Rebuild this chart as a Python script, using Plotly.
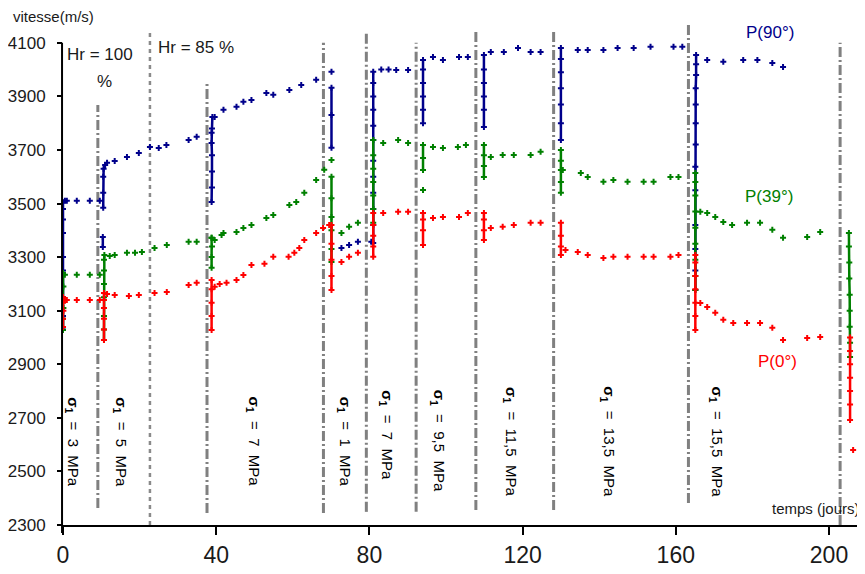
import plotly.graph_objects as go

# ---------------- data ----------------
# P(90°) - scattered measurements (day, m/s)
p90_days = [0.5, 1, 3.6, 7, 9.6,
            11.5, 13.5, 16.7, 19.8, 22.7, 25, 27, 32.8, 34.9, 38.8,
            39.6, 41.9, 45.3, 47.1, 49.2, 53.1, 54.9, 59.1, 62.2, 66.1, 70.1,
            72.7, 74.7, 77, 80.5,
            83.1, 85, 87, 90.1,
            96.6, 99.2, 103.4, 105.7,
            111.7, 115.1, 118.8, 122.1, 124.7,
            134.4, 137, 141.1, 144.8, 149, 153.4, 159.4, 161.7,
            168.2, 172.4, 177.6, 181.3, 185.2, 188]
p90_vals = [3510, 3510, 3510, 3510, 3510,
            3652, 3659, 3674, 3689, 3711, 3707, 3719, 3737, 3749, 3764,
            3823, 3850, 3861, 3880, 3887, 3913, 3906, 3924, 3943, 3962, 3992,
            3334, 3345, 3357, 3357,
            4000, 4000, 3999, 3999,
            4047, 4036, 4047, 4047,
            4066, 4066, 4081, 4066, 4066,
            4073, 4073, 4073, 4081, 4081, 4085, 4085, 4085,
            4036, 4029, 4036, 4036, 4025, 4010]
# P(90°) - rapid jumps after each loading step (None separates jumps)
p90_jump_days = [0, 0, 0, 0, 0, 0, 0, 0, 0, None,
                 10.4, 10.4, None, 10.5, 10.5, 10.5, 10.6, 11, None,
                 38.8, 38.9, 38.9, 38.9, 38.8, 38.9, 39, None,
                 70.1, 70.1, 70.1, None,
                 81, 81, 81, 81, 81, 81, 81, 81, 81, 81, 81, 81, None,
                 94, 94, 94, 94, 94, 94, None,
                 109.9, 109.9, 109.9, 109.9, 109.9, 109.9, None,
                 130, 130, 130, 130, 130, 130, 130, None,
                 165.1, 165.1, 165.1, 165.1, 165.1, 165.1, 165.2, 165.2, 165.2, 165.2, 165.3, 165.3, 165.3]
p90_jump_vals = [3030, 3080, 3150, 3250, 3300, 3390, 3440, 3480, 3505, None,
                 3338, 3375, None, 3484, 3540, 3600, 3630, 3644, None,
                 3506, 3560, 3620, 3680, 3726, 3780, 3823, None,
                 3708, 3831, 3932, None,
                 3353, 3420, 3480, 3540, 3600, 3660, 3737, 3790, 3850, 3900, 3950, 3992, None,
                 3800, 3850, 3900, 3950, 4000, 4036, None,
                 3786, 3850, 3900, 3950, 4000, 4055, None,
                 3737, 3800, 3870, 3930, 3990, 4040, 4081, None,
                 3177, 3250, 3330, 3420, 3550, 3637, 3720, 3800, 3870, 3930, 3980, 4020, 4055]

# P(39°)
p39_days = [0.5, 3.6, 7, 9.6,
            12.2, 13.5, 16.7, 18.8, 20.6, 23.9, 27.1, 32.8, 34.9, 38.8,
            39.6, 41.4, 41.9, 45.3, 47.1, 49.2, 53.1, 54.9, 59.1, 60.9, 63, 66.1, 68.2, 70.1,
            72.7, 74.7, 77,
            83.6, 87.5, 90.1,
            96.6, 99.2, 103.1, 105.2,
            111.7, 114.8, 117.7, 122.1, 124.7,
            130.5, 135.2, 137, 141.1, 143.7, 147.4, 151.6, 154.2, 158.6, 160.7,
            166.4, 168.2, 170.3, 172.4, 174.7, 178.6, 182, 185.2, 188, 194.3, 197.7]
p39_vals = [3234, 3234, 3234, 3234,
            3304, 3308, 3316, 3316, 3319, 3334, 3345, 3357, 3357, 3372,
            3364, 3383, 3390, 3394, 3409, 3420, 3446, 3457, 3495, 3506, 3540, 3588, 3626, 3663,
            3390, 3413, 3428,
            3726, 3737, 3726,
            3711, 3707, 3711, 3719,
            3674, 3681, 3681, 3681, 3693,
            3625, 3614, 3599, 3581, 3588, 3581, 3581, 3581, 3599, 3599,
            3469, 3465, 3450, 3431, 3420, 3428, 3428, 3402, 3372, 3375, 3394]
p39_jump_days = [0, 0, 0.1, 0, 0.1, 0, None,
                 10.7, 10.7, 10.7, 10.7, 10.7, 10.7, 10.7, 10.8, None,
                 38.8, 38.8, 38.9, 38.8, None,
                 70.1, 70.1, 70.1, 70.1, 70.1, 70.1, None,
                 81, 81, 81, 81, 81, 81, 81, None,
                 94, None, 94, 94, 94, None,
                 109.9, 109.9, 109.9, 109.9, None,
                 130, 130, 130, 130, 130, None,
                 165.1, 165.1, 165.1, 165.1, 165.1, 165.1, 165.1, 165.1, 165.1, None,
                 205.2, 205.2, 205.3, 205.3, 205.4, 205.4, 205.4, 205.5, 205.5]
p39_jump_vals = [3028, 3070, 3110, 3150, 3190, 3241, None,
                 2991, 3030, 3080, 3150, 3200, 3250, 3290, 3308, None,
                 3260, 3300, 3340, 3372, None,
                 3282, 3330, 3400, 3450, 3520, 3600, None,
                 3428, 3480, 3530, 3580, 3630, 3680, 3737, None,
                 3551, None, 3625, 3670, 3719, None,
                 3599, 3640, 3680, 3719, None,
                 3540, 3580, 3625, 3660, 3700, None,
                 3177, 3230, 3290, 3350, 3410, 3470, 3530, 3580, 3614, None,
                 3390, 3340, 3280, 3220, 3160, 3100, 3040, 2980, 2927]

# P(0°)
p0_days = [0.5, 1, 3.6, 7, 9.6,
           11.5, 13.5, 17.2, 19.8, 23.9, 27.1, 32.8, 34.9,
           39.6, 40.9, 42.7, 45.3, 47.1, 49.2, 52.6, 54.9, 58.9, 60.4, 61.7, 63, 66.1, 67.9, 69.5,
           72.7, 74.7, 77,
           83.6, 87.5, 90.1,
           96.6, 99.2, 103.4, 105.7,
           111.7, 114.8, 117.7, 122.1, 124.7,
           131.2, 134.4, 137, 141.1, 143.7, 147.4, 151.6, 154.2, 158.6, 160.7,
           166.4, 168.2, 170.3, 172.4, 175, 178.6, 182, 185.2, 188, 194.3, 197.7,
           206.3]
p0_vals = [3140, 3140, 3140, 3140, 3140,
           3162, 3159, 3155, 3159, 3166, 3170, 3196, 3204,
           3189, 3200, 3204, 3215, 3233, 3271, 3275, 3301, 3301, 3316, 3334, 3364, 3390, 3409, 3420,
           3282, 3301, 3316,
           3465, 3469, 3469,
           3446, 3450, 3450, 3465,
           3409, 3413, 3420, 3428, 3428,
           3327, 3319, 3308, 3297, 3301, 3301, 3301, 3301, 3301, 3308,
           3129, 3114, 3092, 3066, 3054, 3054, 3054, 3036, 2991, 2998, 3002,
           2580]
p0_jump_days = [0, 0, 0.1, 0, 0, None,
                10.7, 10.7, 10.7, 10.7, 10.7, 10.7, None,
                38.8, 38.8, 38.8, 38.8, 38.8, None,
                70.1, 70.1, 70.1, 70.1, 70.1, None,
                81, 81, 81, 81, 81, None,
                94, 94, 94, 94, None,
                109.9, 109.9, 109.9, 109.9, None,
                130, 130, 130, 130, None,
                165.1, 165.1, 165.1, 165.1, 165.1, 165.1, 165.1, None,
                205.5, 205.5, 205.5, 205.5, 205.5, 205.5, 205.5]
p0_jump_vals = [3039, 3070, 3100, 3130, 3151, None,
                2991, 3030, 3070, 3110, 3140, 3166, None,
                3028, 3080, 3130, 3180, 3215, None,
                3177, 3230, 3290, 3350, 3420, None,
                3301, 3340, 3380, 3420, 3465, None,
                3345, 3400, 3440, 3465, None,
                3364, 3400, 3440, 3465, None,
                3308, 3340, 3380, 3428, None,
                3028, 3080, 3130, 3180, 3230, 3280, 3308, None,
                3000, 2950, 2900, 2850, 2800, 2750, 2692]

# loading steps (day of change) and stress labels
step_days = [9.1, 22.7, 37.6, 68.0, 79.2, 92.2, 107.8, 128.1, 163.3, 202.9]
stress_labels = ["3", "5", "7", "1", "7", "9,5", "11,5", "13,5", "15,5"]

x_ticks = [0, 40, 80, 120, 160, 200]
y_ticks = [2300, 2500, 2700, 2900, 3100, 3300, 3500, 3700, 3900, 4100]

# ---------------- styling / layout ----------------
FONT = "Arial, Liberation Sans, sans-serif"
BLUE, GREEN, RED = "#00008B", "#008000", "#FF0000"
X_RANGE = [0, 209.4]
Y_RANGE = [2300, 4230]

fig = go.Figure()

for d, v, jd, jv, col in [
    (p90_days, p90_vals, p90_jump_days, p90_jump_vals, BLUE),
    (p39_days, p39_vals, p39_jump_days, p39_jump_vals, GREEN),
    (p0_days, p0_vals, p0_jump_days, p0_jump_vals, RED),
]:
    fig.add_trace(go.Scatter(x=jd, y=jv, mode="lines+markers",
                             line=dict(color=col, width=2.5),
                             marker=dict(symbol="cross", size=5, color=col),
                             connectgaps=False, showlegend=False, hoverinfo="skip"))
    fig.add_trace(go.Scatter(x=d, y=v, mode="markers",
                             marker=dict(symbol="cross", size=5, color=col),
                             showlegend=False))

# vertical step separators: (top, bottom) extents in m/s
step_extent = [(3868, 2363), (4141, 2300), (3950, 2345), (4100, 2345), (4137, 2349),
               (4100, 2349), (4141, 2356), (4141, 2356), (4174, 2382), (4100, 2300)]
shapes = []
for i, (day, (top, bot)) in enumerate(zip(step_days, step_extent)):
    if i == 1:
        ln = dict(color="#8a8a8a", width=2.5, dash="4px,4px")
    else:
        ln = dict(color="#808080", width=3, dash="10px,3px,2px,3px")
    shapes.append(dict(type="line", xref="x", yref="y", x0=day, x1=day,
                       y0=bot, y1=top, line=ln, layer="below"))

# y axis line from 2300 to 4100 (paper coords)
def ypaper(v):
    return (v - Y_RANGE[0]) / (Y_RANGE[1] - Y_RANGE[0])

def xpaper(d):
    return (d - X_RANGE[0]) / (X_RANGE[1] - X_RANGE[0])

shapes.append(dict(type="line", xref="paper", yref="paper", x0=-0.0012, x1=-0.0012,
                   y0=ypaper(2270), y1=ypaper(4100), line=dict(color="black", width=2)))

annotations = []
def txt(text, x, y, size, color="#1a1a1a", xanchor="left", angle=0):
    # placed in paper coordinates so texts outside the data range stay visible
    annotations.append(dict(text=text, x=xpaper(x), y=ypaper(y), xref="paper", yref="paper",
                            showarrow=False, xanchor=xanchor, yanchor="middle",
                            textangle=angle,
                            font=dict(family=FONT, size=size, color=color)))

txt("vitesse(m/s)", -13.6, 4200, 15)
txt("Hr = 100", 0.6, 4055, 17)
txt("%", 8.4, 3954, 17)
txt("Hr = 85 %", 24.3, 4081, 17)
txt("temps (jours)", 208.6, 2363, 15, xanchor="right")
txt("P(90°)", 184.6, 4137, 17, color=BLUE, xanchor="center")
txt("P(39°)", 184.4, 3525, 17, color=GREEN, xanchor="center")
txt("P(0°)", 186.5, 2912, 17, color=RED, xanchor="center")

label_pos = [(2.3, 2610), (14.8, 2610), (49.7, 2610), (73.4, 2610), (84.6, 2635),
             (97.9, 2615), (116.7, 2610), (142.2, 2610), (170.6, 2610)]
nb = "\u00a0"
for lab, (lx, ly) in zip(stress_labels, label_pos):
    txt(f"<b>σ<sub>1</sub></b>{nb}{nb}={nb}{nb}{lab}{nb}{nb}MPa", lx, ly, 15,
        color="black", xanchor="center", angle=90)

# the page body has an 8 px margin: the figure is sized so it ends at the window edge
fig.update_layout(
    width=857, height=566,
    margin=dict(l=53, r=0, t=0, b=49, pad=0),
    paper_bgcolor="white", plot_bgcolor="white",
    shapes=shapes, annotations=annotations,
    showlegend=False,
    xaxis=dict(range=X_RANGE, tickvals=x_ticks, ticktext=[str(t) for t in x_ticks],
               ticks="outside", ticklen=8, tickwidth=2, tickcolor="black",
               showline=True, linecolor="black", linewidth=2,
               showgrid=False, zeroline=False, ticklabelstandoff=0,
               tickfont=dict(family=FONT, size=23, color="#1a1a1a")),
    yaxis=dict(range=Y_RANGE, tickvals=y_ticks, ticktext=[str(t) for t in y_ticks],
               ticks="outside", ticklen=5, tickwidth=2, tickcolor="black",
               showline=False, showgrid=False, zeroline=False, ticklabelstandoff=8,
               tickfont=dict(family=FONT, size=17, color="#1a1a1a")),
)

fig.write_html("out.html")
